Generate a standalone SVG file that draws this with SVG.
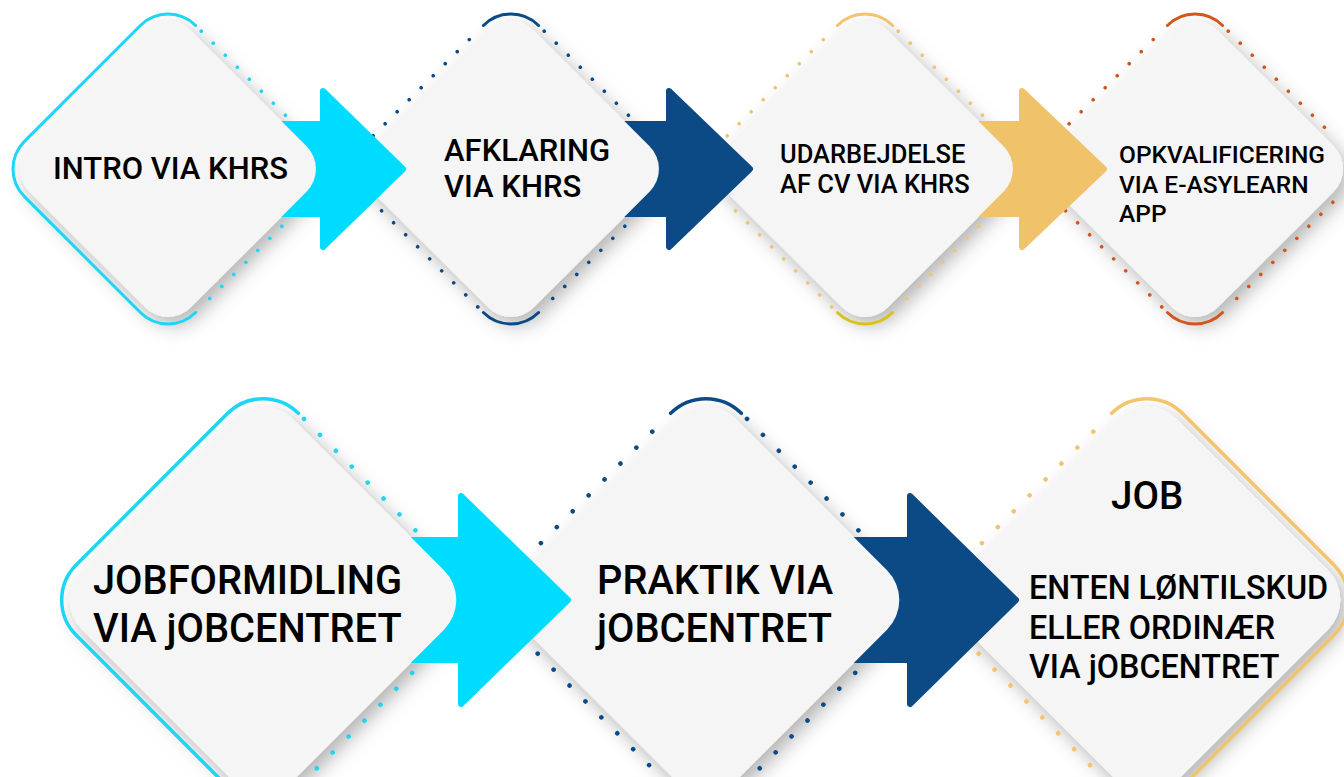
<svg xmlns="http://www.w3.org/2000/svg" xmlns:xlink="http://www.w3.org/1999/xlink" width="1344" height="777" viewBox="0 0 1344 777">
<style>
.bg{fill:#ffffff}
.nf{fill:#F5F5F5}
.solid{fill:none;stroke-width:3;stroke-linecap:round}
.solid2{fill:none;stroke-width:3.5;stroke-linecap:round}
.dot1{fill:none;stroke-width:3.6;stroke-linecap:round;stroke-dasharray:0 17}
.dot2{fill:none;stroke-width:4.6;stroke-linecap:round;stroke-dasharray:0 22.5}
.arrow{stroke-width:6;stroke-linejoin:round}
.cy{stroke:#1CD6F5}
.db{stroke:#0B4A85}
.gd{stroke:#F2C46C}
.yl{stroke:#D9C21A}
.or{stroke:#D2561A}
text{font-family:Roboto,"Liberation Sans",sans-serif;font-weight:500;fill:#000000}
.t1{font-size:31px}
.t3{font-size:25.5px}
.t4{font-size:24.5px}
.t5{font-size:39.8px}
.t6{font-size:38.5px}
.t7{font-size:32.3px}
</style>
<defs>
<rect id="f1" x="-114" y="-114" width="228" height="228" rx="32"/>
<rect id="f2" x="-149" y="-149" width="298" height="298" rx="42"/>
<filter id="sh" x="-25%" y="-25%" width="150%" height="150%">
<feDropShadow dx="6" dy="8" stdDeviation="10" flood-color="#000" flood-opacity="0.3"/>
</filter>
<mask id="m1" maskUnits="userSpaceOnUse" x="0" y="0" width="1344" height="777"><rect width="1344" height="777" fill="#fff"/><use href="#f1" transform="translate(168,169) rotate(45)" fill="#000"/></mask>
<mask id="m2" maskUnits="userSpaceOnUse" x="0" y="0" width="1344" height="777"><rect width="1344" height="777" fill="#fff"/><use href="#f1" transform="translate(511,169) rotate(45)" fill="#000"/></mask>
<mask id="m3" maskUnits="userSpaceOnUse" x="0" y="0" width="1344" height="777"><rect width="1344" height="777" fill="#fff"/><use href="#f1" transform="translate(865,169) rotate(45)" fill="#000"/></mask>
<mask id="m4" maskUnits="userSpaceOnUse" x="0" y="0" width="1344" height="777"><rect width="1344" height="777" fill="#fff"/><use href="#f2" transform="translate(263,600) rotate(45)" fill="#000"/></mask>
<mask id="m5" maskUnits="userSpaceOnUse" x="0" y="0" width="1344" height="777"><rect width="1344" height="777" fill="#fff"/><use href="#f2" transform="translate(706,600) rotate(45)" fill="#000"/></mask>
</defs>
<rect class="bg" width="1344" height="777"/>

<g id="node-intro">
<g filter="url(#sh)"><use href="#f1" class="nf" transform="translate(168,169) rotate(45)"/></g>
<g transform="translate(168,169) rotate(45)">
<path class="solid cy" d="M -82 -121 A 39 39 0 0 0 -121 -82 V 82 A 39 39 0 0 0 -82 121 H 82 A 39 39 0 0 0 121 82"/>
<path class="dot1 cy" d="M -74 -121 H 74 M 121 -74 V 74"/>
</g>
<text class="t1" x="53" y="179">INTRO VIA KHRS</text>
</g>

<g id="node-afklaring">
<g filter="url(#sh)"><use href="#f1" class="nf" transform="translate(511,169) rotate(45)"/></g>
<g transform="translate(511,169) rotate(45)">
<path class="solid db" d="M -121 -82 A 39 39 0 0 1 -82 -121 M 121 82 A 39 39 0 0 1 82 121"/>
<path class="dot1 db" d="M -74 -121 H 74 M 121 -74 V 74 M 74 121 H -74 M -121 74 V -74"/>
</g>
<text class="t1" x="444" y="161">AFKLARING</text>
<text class="t1" x="444" y="197">VIA KHRS</text>
</g>

<g id="node-udarbejdelse">
<g filter="url(#sh)"><use href="#f1" class="nf" transform="translate(865,169) rotate(45)"/></g>
<g transform="translate(865,169) rotate(45)">
<path class="solid gd" d="M -121 -82 A 39 39 0 0 1 -82 -121"/>
<path class="solid yl" d="M 121 82 A 39 39 0 0 1 82 121"/>
<path class="dot1 gd" d="M -74 -121 H 74 M 121 -74 V 74 M 74 121 H -74 M -121 74 V -74"/>
</g>
<text class="t3" x="780" y="163">UDARBEJDELSE</text>
<text class="t3" x="780" y="193">AF CV VIA KHRS</text>
</g>

<g id="node-opkvalificering">
<g filter="url(#sh)"><use href="#f1" class="nf" transform="translate(1195,169) rotate(45)"/></g>
<g transform="translate(1195,169) rotate(45)">
<path class="solid or" d="M -121 -82 A 39 39 0 0 1 -82 -121 M 121 82 A 39 39 0 0 1 82 121"/>
<path class="dot1 or" d="M -74 -121 H 74 M 121 -74 V 74 M 74 121 H -74 M -121 74 V -74"/>
</g>
<text class="t4" x="1119" y="163">OPKVALIFICERING</text>
<text class="t4" x="1119" y="193">VIA E-ASYLEARN</text>
<text class="t4" x="1119" y="222">APP</text>
</g>

<g id="node-jobformidling">
<g filter="url(#sh)"><use href="#f2" class="nf" transform="translate(263,600) rotate(45)"/></g>
<g transform="translate(263,600) rotate(45)">
<path class="solid2 cy" d="M -107 -157 A 50 50 0 0 0 -157 -107 V 107 A 50 50 0 0 0 -107 157 H 107 A 50 50 0 0 0 157 107"/>
<path class="dot2 cy" d="M -99 -157 H 99 M 157 -99 V 99"/>
</g>
<text class="t5" x="93" y="594">JOBFORMIDLING</text>
<text class="t5" x="93" y="642">VIA jOBCENTRET</text>
</g>

<g id="node-praktik">
<g filter="url(#sh)"><use href="#f2" class="nf" transform="translate(706,600) rotate(45)"/></g>
<g transform="translate(706,600) rotate(45)">
<path class="solid2 db" d="M -157 -107 A 50 50 0 0 1 -107 -157 M 157 107 A 50 50 0 0 1 107 157"/>
<path class="dot2 db" d="M -99 -157 H 99 M 157 -99 V 99 M 99 157 H -99 M -157 99 V -99"/>
</g>
<text class="t5" x="597" y="594">PRAKTIK VIA</text>
<text class="t5" x="597" y="642">jOBCENTRET</text>
</g>

<g id="node-job">
<g filter="url(#sh)"><use href="#f2" class="nf" transform="translate(1147,600) rotate(45)"/></g>
<g transform="translate(1147,600) rotate(45)">
<path class="solid2 gd" d="M -157 -107 A 50 50 0 0 1 -107 -157 H 107 A 50 50 0 0 1 157 -107 V 107 A 50 50 0 0 1 107 157"/>
<path class="dot2 gd" d="M 99 157 H -99 M -157 99 V -99"/>
</g>
<text class="t6" x="1111" y="509">JOB</text>
<text class="t7" x="1029" y="599">ENTEN LØNTILSKUD</text>
<text class="t7" x="1029" y="639">ELLER ORDINÆR</text>
<text class="t7" x="1029" y="678">VIA jOBCENTRET</text>
</g>

<g id="connectors">
<path class="arrow" mask="url(#m1)" fill="#00DCFF" stroke="#00DCFF" d="M 230 124 H 323 V 91 L 403 169 L 323 247 V 214 H 230 Z"/>
<path class="arrow" mask="url(#m2)" fill="#0B4A85" stroke="#0B4A85" d="M 576 124 H 669 V 91 L 750 169 L 669 247 V 214 H 576 Z"/>
<path class="arrow" mask="url(#m3)" fill="#F0C26A" stroke="#F0C26A" d="M 929 124 H 1022 V 91 L 1104 169 L 1022 247 V 214 H 929 Z"/>
<path class="arrow" mask="url(#m4)" fill="#00DCFF" stroke="#00DCFF" d="M 348 540 H 461 V 496 L 568 600 L 461 704 V 660 H 348 Z"/>
<path class="arrow" mask="url(#m5)" fill="#0B4A85" stroke="#0B4A85" d="M 797 540 H 910 V 496 L 1016 600 L 910 704 V 660 H 797 Z"/>
</g>
</svg>
